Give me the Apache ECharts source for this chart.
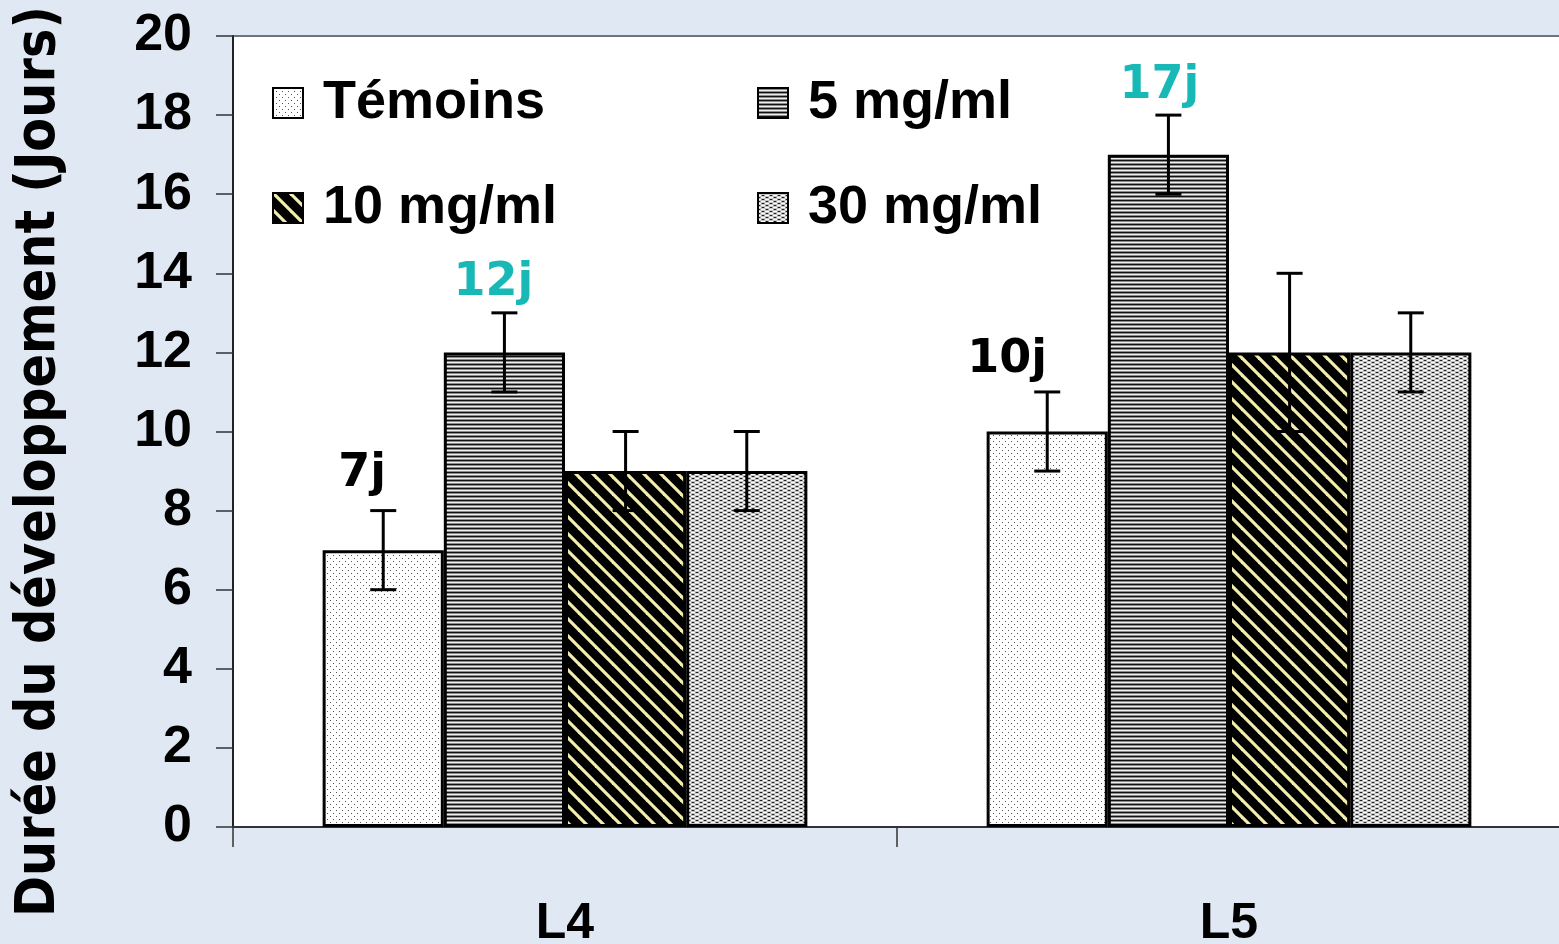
<!DOCTYPE html>
<html>
<head>
<meta charset="utf-8">
<script src="https://cdn.jsdelivr.net/npm/echarts@6/dist/echarts.min.js"></script>
<style>
html, body { margin: 0; padding: 0; background: #dfe8f3; }
#main { width: 1559px; height: 944px; }
</style>
</head>
<body>
<div id="main"></div>
<script>
// données
const categories = ['L4', 'L5'];
const seriesNames = ['Témoins', '5 mg/ml', '10 mg/ml', '30 mg/ml'];
const temoins = [7, 10];
const mg5 = [12, 17];
const mg10 = [9, 12];
const mg30 = [9, 12];
// barres d'erreur (+/-)
const errTemoins = [1, 1];
const errMg5 = [1, 1];
const errMg10 = [1, 2];
const errMg30 = [1, 1];
// étiquettes au-dessus des barres
const labelsTemoins = ['7j', '10j'];
const labelsMg5 = ['12j', '17j'];
const labelsMg10 = ['', ''];
const labelsMg30 = ['', ''];
// axe Y
const yMin = 0;
const yMax = 20;
const yStep = 2;

const values = [temoins, mg5, mg10, mg30];
const errors = [errTemoins, errMg5, errMg10, errMg30];
const labels = [labelsTemoins, labelsMg5, labelsMg10, labelsMg30];

// style
const labelColors = ['#000000', '#17b8b6', '#000000', '#000000'];
const labelNudge = {'0-0': [-21, -14], '0-1': [-40, -9], '1-0': [-11, -7], '1-1': [-9, -6]};
const CAT_GAP = 0.27;
const narrow = '"Liberation Sans Narrow", "Arial Narrow", "Liberation Sans", sans-serif';

function makeTile(w, h, draw) {
  const c = document.createElement('canvas');
  c.width = w;
  c.height = h;
  draw(c.getContext('2d'), w, h);
  return { image: c, repeat: 'repeat' };
}

const patterns = [
  // Témoins : points épars
  makeTile(6, 6, (ctx) => {
    ctx.fillStyle = '#fff'; ctx.fillRect(0, 0, 6, 6);
    ctx.fillStyle = '#555'; ctx.fillRect(0, 0, 1, 1); ctx.fillRect(3, 3, 1, 1);
  }),
  // 5 mg/ml : lignes horizontales
  makeTile(4, 4, (ctx) => {
    ['#111', '#8c8c8c', '#eeeeee', '#8c8c8c'].forEach((col, i) => {
      ctx.fillStyle = col; ctx.fillRect(0, i, 4, 1);
    });
  }),
  // 10 mg/ml : hachures noires / jaune pâle
  makeTile(17, 17, (ctx, w) => {
    ctx.fillStyle = '#000'; ctx.fillRect(0, 0, w, w);
    ctx.strokeStyle = '#f3eeae'; ctx.lineWidth = 3.2;
    [-w, 0, w].forEach((c) => {
      ctx.beginPath(); ctx.moveTo(c - 2, -2); ctx.lineTo(c + w + 2, w + 2); ctx.stroke();
    });
  }),
  // 30 mg/ml : tirets serrés
  makeTile(8, 4, (ctx) => {
    ctx.fillStyle = '#fff'; ctx.fillRect(0, 0, 8, 4);
    ctx.fillStyle = '#c6c6c6'; ctx.fillRect(0, 1, 8, 1); ctx.fillRect(0, 3, 8, 1);
    ctx.fillStyle = '#8e8e8e'; ctx.fillRect(2, 0, 1, 1); ctx.fillRect(7, 0, 1, 1);
    ctx.fillRect(3, 2, 1, 1); ctx.fillRect(6, 2, 1, 1);
    ctx.fillStyle = '#222'; ctx.fillRect(0, 0, 2, 1); ctx.fillRect(4, 2, 2, 1);
  })
];

const errData = [];
errors.forEach((errs, s) => {
  errs.forEach((e, c) => {
    errData.push([c, s, values[s][c] - e, values[s][c] + e]);
  });
});

const chart = echarts.init(document.getElementById('main'));

const barSeries = values.map((vals, i) => ({
  name: seriesNames[i],
  type: 'bar',
  data: vals,
  barGap: '0%',
  barCategoryGap: (CAT_GAP * 100) + '%',
  itemStyle: { color: patterns[i], borderColor: '#000', borderWidth: 3 },
  emphasis: { disabled: true }
}));

const errSeries = {
  type: 'custom',
  data: errData,
  z: 10,
  encode: { x: 0, y: [2, 3] },
  silent: true,
  renderItem: function (params, api) {
    const c = api.value(0);
    const s = api.value(1);
    const band = api.size([1, 0])[0];
    const bw = band * (1 - CAT_GAP) / 4;
    const x = api.coord([c, 0])[0] + (s - 1.5) * bw;
    const yLo = api.coord([c, api.value(2)])[1];
    const yHi = api.coord([c, api.value(3)])[1];
    const line = { stroke: '#000', lineWidth: 3 };
    const children = [
      { type: 'line', shape: { x1: x, y1: yLo, x2: x, y2: yHi }, style: line },
      { type: 'line', shape: { x1: x - 13, y1: yLo, x2: x + 13, y2: yLo }, style: line },
      { type: 'line', shape: { x1: x - 13, y1: yHi, x2: x + 13, y2: yHi }, style: line }
    ];
    const txt = labels[s][c];
    if (txt) {
      const n = labelNudge[s + '-' + c] || [0, -10];
      children.push({
        type: 'text',
        style: {
          text: txt,
          x: x + n[0],
          y: yHi + n[1],
          align: 'center',
          verticalAlign: 'bottom',
          fontFamily: '"DejaVu Sans"',
          fontWeight: 'bold',
          fontSize: 46,
          fill: labelColors[s]
        }
      });
    }
    return { type: 'group', children: children };
  }
};

const legendText = { fontFamily: narrow, fontWeight: 'bold', fontSize: 54, color: '#000', lineHeight: 60, padding: [0, 0, 0, 15] };

chart.setOption({
  backgroundColor: '#dfe8f3',
  animation: false,
  grid: {
    left: 233, right: -2, top: 36, bottom: 117,
    outerBoundsMode: 'none',
    show: true, backgroundColor: '#fff', borderColor: '#6f747c', borderWidth: 2
  },
  legend: [
    {
      data: [seriesNames[0], seriesNames[2]], orient: 'vertical', left: 272, top: 73, padding: 0,
      itemWidth: 30, itemHeight: 30, itemGap: 45, selectedMode: false, icon: 'rect',
      itemStyle: { borderWidth: 2 }, textStyle: legendText
    },
    {
      data: [seriesNames[1], seriesNames[3]], orient: 'vertical', left: 757, top: 73, padding: 0,
      itemWidth: 30, itemHeight: 30, itemGap: 45, selectedMode: false, icon: 'rect',
      itemStyle: { borderWidth: 2 }, textStyle: legendText
    }
  ],
  xAxis: {
    type: 'category',
    data: categories,
    axisLine: { lineStyle: { color: '#333', width: 2 } },
    axisTick: { show: true, length: 20, lineStyle: { color: '#333', width: 1.5 } },
    axisLabel: { margin: 72, fontFamily: narrow, fontWeight: 'bold', fontSize: 50, color: '#000' }
  },
  yAxis: {
    type: 'value',
    min: yMin, max: yMax, interval: yStep,
    name: 'Durée du développement (Jours)',
    nameLocation: 'middle',
    nameGap: 166,
    nameTextStyle: {
      fontFamily: '"DejaVu Sans Condensed", "DejaVu Sans"', fontWeight: 'bold', fontSize: 55,
      color: '#000', padding: [0, 60, 0, 0]
    },
    axisLine: { show: true, lineStyle: { color: '#222', width: 2 } },
    axisTick: { show: true, length: 17, lineStyle: { color: '#333', width: 1.5 } },
    splitLine: { show: false },
    axisLabel: { margin: 41, fontFamily: narrow, fontWeight: 'bold', fontSize: 52, color: '#000' }
  },
  series: barSeries.concat([errSeries])
});
</script>
</body>
</html>
